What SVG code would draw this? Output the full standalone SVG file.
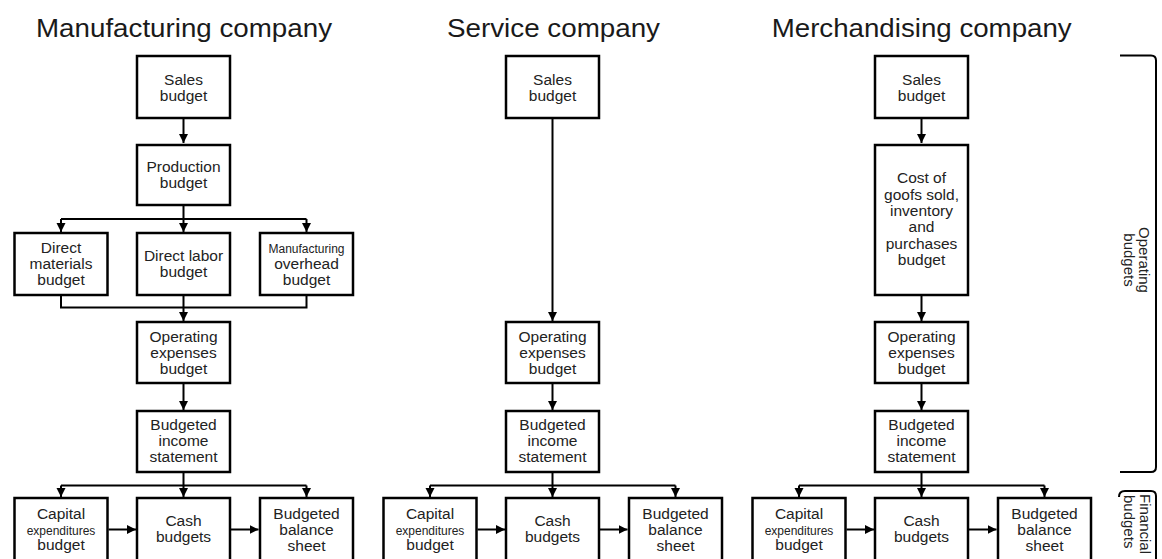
<svg xmlns="http://www.w3.org/2000/svg" width="1162" height="559" viewBox="0 0 1162 559">
  <style>
    .box { fill: #fff; stroke: #000; stroke-width: 2.5; }
    .t { font-family: "Liberation Sans", Arial, sans-serif; font-size: 15.5px; text-anchor: middle; fill: #222; }
    .s { font-family: "Liberation Sans", Arial, sans-serif; font-size: 12px; text-anchor: middle; fill: #222; }
    .title { font-family: "Liberation Sans", Arial, sans-serif; font-size: 26px; text-anchor: middle; fill: #1a1a1a; }
    .side { font-family: "Liberation Sans", Arial, sans-serif; font-size: 15px; fill: #222; }
    .ln { fill: none; stroke: #000; stroke-width: 2; }
    .ar { fill: none; stroke: #000; stroke-width: 2; marker-end: url(#arrow); }
    .br { fill: none; stroke: #000; stroke-width: 2; }
  </style>
  <defs>
    <marker id="arrow" markerUnits="userSpaceOnUse" markerWidth="10" markerHeight="10" refX="9" refY="4.5" orient="auto">
      <path d="M0,0 L9,4.5 L0,9 Z" fill="#000"/>
    </marker>
  </defs>
  <rect width="1162" height="559" fill="#fff"/>

  <!-- column headings -->
  <g id="titles">
    <text class="title" x="184" y="37" textLength="296" lengthAdjust="spacingAndGlyphs">Manufacturing company</text>
    <text class="title" x="553.5" y="37" textLength="213" lengthAdjust="spacingAndGlyphs">Service company</text>
    <text class="title" x="921.7" y="37" textLength="300" lengthAdjust="spacingAndGlyphs">Merchandising company</text>
  </g>

  <!-- connectors -->
  <g id="connectors">
    <!-- manufacturing -->
    <path class="ar" d="M183.5,119 V143"/>
    <path class="ln" d="M183.5,206 V219 M61,219 H306.5"/>
    <path class="ar" d="M61,219 V232"/>
    <path class="ar" d="M183.5,219 V232"/>
    <path class="ar" d="M306.5,219 V232"/>
    <path class="ln" d="M61,296 V307.5 H306.5 V296"/>
    <path class="ar" d="M183.5,296 V321"/>
    <path class="ar" d="M183.5,384 V410"/>
    <path class="ln" d="M183.5,473 V485.5 M61,485.5 H306.5"/>
    <path class="ar" d="M61,485.5 V497"/>
    <path class="ar" d="M183.5,485.5 V497"/>
    <path class="ar" d="M306.5,485.5 V497"/>
    <path class="ar" d="M108.5,529.5 H136"/>
    <path class="ar" d="M231,529.5 H258.5"/>
    <!-- service -->
    <path class="ar" d="M552.5,119 V321"/>
    <path class="ar" d="M552.5,384 V410"/>
    <path class="ln" d="M552.5,473 V485.5 M430,485.5 H675.5"/>
    <path class="ar" d="M430,485.5 V497"/>
    <path class="ar" d="M552.5,485.5 V497"/>
    <path class="ar" d="M675.5,485.5 V497"/>
    <path class="ar" d="M477.5,529.5 H505"/>
    <path class="ar" d="M600,529.5 H627.5"/>
    <!-- merchandising -->
    <path class="ar" d="M921.5,119 V143"/>
    <path class="ar" d="M921.5,296 V321"/>
    <path class="ar" d="M921.5,384 V410"/>
    <path class="ln" d="M921.5,473 V485.5 M799,485.5 H1044.5"/>
    <path class="ar" d="M799,485.5 V497"/>
    <path class="ar" d="M921.5,485.5 V497"/>
    <path class="ar" d="M1044.5,485.5 V497"/>
    <path class="ar" d="M846.5,529.5 H874"/>
    <path class="ar" d="M969,529.5 H996.5"/>
  </g>

  <!-- manufacturing company -->
  <g id="mfg-sales">
    <rect class="box" x="137" y="56" width="93" height="62"/>
    <text class="t" x="183.5" y="85">Sales</text>
    <text class="t" x="183.5" y="101">budget</text>
  </g>
  <g id="mfg-production">
    <rect class="box" x="137" y="145" width="93" height="60"/>
    <text class="t" x="183.5" y="171.5">Production</text>
    <text class="t" x="183.5" y="187.5">budget</text>
  </g>
  <g id="mfg-materials">
    <rect class="box" x="14.5" y="233" width="93" height="62"/>
    <text class="t" x="61" y="252.5">Direct</text>
    <text class="t" x="61" y="268.5">materials</text>
    <text class="t" x="61" y="284.5">budget</text>
  </g>
  <g id="mfg-labor">
    <rect class="box" x="137" y="233" width="93" height="62"/>
    <text class="t" x="183.5" y="261">Direct labor</text>
    <text class="t" x="183.5" y="277">budget</text>
  </g>
  <g id="mfg-overhead">
    <rect class="box" x="260" y="233" width="93" height="62"/>
    <text class="s" x="306.5" y="252.5">Manufacturing</text>
    <text class="t" x="306.5" y="268.5">overhead</text>
    <text class="t" x="306.5" y="284.5">budget</text>
  </g>
  <g id="mfg-opex">
    <rect class="box" x="137" y="322" width="93" height="61"/>
    <text class="t" x="183.5" y="342">Operating</text>
    <text class="t" x="183.5" y="358">expenses</text>
    <text class="t" x="183.5" y="374">budget</text>
  </g>
  <g id="mfg-income">
    <rect class="box" x="137" y="411" width="93" height="61"/>
    <text class="t" x="183.5" y="430">Budgeted</text>
    <text class="t" x="183.5" y="446">income</text>
    <text class="t" x="183.5" y="462">statement</text>
  </g>
  <g id="mfg-capital">
    <rect class="box" x="14.5" y="498" width="93" height="70"/>
    <text class="t" x="61" y="519">Capital</text>
    <text class="s" x="61" y="534.5">expenditures</text>
    <text class="t" x="61" y="550">budget</text>
  </g>
  <g id="mfg-cash">
    <rect class="box" x="137" y="498" width="93" height="70"/>
    <text class="t" x="183.5" y="526">Cash</text>
    <text class="t" x="183.5" y="542">budgets</text>
  </g>
  <g id="mfg-balance">
    <rect class="box" x="260" y="498" width="93" height="70"/>
    <text class="t" x="306.5" y="519">Budgeted</text>
    <text class="t" x="306.5" y="534.5">balance</text>
    <text class="t" x="306.5" y="550.5">sheet</text>
  </g>

  <!-- service company -->
  <g id="svc-sales">
    <rect class="box" x="506" y="56" width="93" height="62"/>
    <text class="t" x="552.5" y="85">Sales</text>
    <text class="t" x="552.5" y="101">budget</text>
  </g>
  <g id="svc-opex">
    <rect class="box" x="506" y="322" width="93" height="61"/>
    <text class="t" x="552.5" y="342">Operating</text>
    <text class="t" x="552.5" y="358">expenses</text>
    <text class="t" x="552.5" y="374">budget</text>
  </g>
  <g id="svc-income">
    <rect class="box" x="506" y="411" width="93" height="61"/>
    <text class="t" x="552.5" y="430">Budgeted</text>
    <text class="t" x="552.5" y="446">income</text>
    <text class="t" x="552.5" y="462">statement</text>
  </g>
  <g id="svc-capital">
    <rect class="box" x="383.5" y="498" width="93" height="70"/>
    <text class="t" x="430" y="519">Capital</text>
    <text class="s" x="430" y="534.5">expenditures</text>
    <text class="t" x="430" y="550">budget</text>
  </g>
  <g id="svc-cash">
    <rect class="box" x="506" y="498" width="93" height="70"/>
    <text class="t" x="552.5" y="526">Cash</text>
    <text class="t" x="552.5" y="542">budgets</text>
  </g>
  <g id="svc-balance">
    <rect class="box" x="629" y="498" width="93" height="70"/>
    <text class="t" x="675.5" y="519">Budgeted</text>
    <text class="t" x="675.5" y="534.5">balance</text>
    <text class="t" x="675.5" y="550.5">sheet</text>
  </g>

  <!-- merchandising company -->
  <g id="mer-sales">
    <rect class="box" x="875" y="56" width="93" height="62"/>
    <text class="t" x="921.5" y="85">Sales</text>
    <text class="t" x="921.5" y="101">budget</text>
  </g>
  <g id="mer-cogs">
    <rect class="box" x="875" y="145" width="93" height="150"/>
    <text class="t" x="921.5" y="183">Cost of</text>
    <text class="t" x="921.5" y="199.5">goofs sold,</text>
    <text class="t" x="921.5" y="216">inventory</text>
    <text class="t" x="921.5" y="232">and</text>
    <text class="t" x="921.5" y="248.5">purchases</text>
    <text class="t" x="921.5" y="265">budget</text>
  </g>
  <g id="mer-opex">
    <rect class="box" x="875" y="322" width="93" height="61"/>
    <text class="t" x="921.5" y="342">Operating</text>
    <text class="t" x="921.5" y="358">expenses</text>
    <text class="t" x="921.5" y="374">budget</text>
  </g>
  <g id="mer-income">
    <rect class="box" x="875" y="411" width="93" height="61"/>
    <text class="t" x="921.5" y="430">Budgeted</text>
    <text class="t" x="921.5" y="446">income</text>
    <text class="t" x="921.5" y="462">statement</text>
  </g>
  <g id="mer-capital">
    <rect class="box" x="752.5" y="498" width="93" height="70"/>
    <text class="t" x="799" y="519">Capital</text>
    <text class="s" x="799" y="534.5">expenditures</text>
    <text class="t" x="799" y="550">budget</text>
  </g>
  <g id="mer-cash">
    <rect class="box" x="875" y="498" width="93" height="70"/>
    <text class="t" x="921.5" y="526">Cash</text>
    <text class="t" x="921.5" y="542">budgets</text>
  </g>
  <g id="mer-balance">
    <rect class="box" x="998" y="498" width="93" height="70"/>
    <text class="t" x="1044.5" y="519">Budgeted</text>
    <text class="t" x="1044.5" y="534.5">balance</text>
    <text class="t" x="1044.5" y="550.5">sheet</text>
  </g>

  <!-- side brackets -->
  <g id="operating-bracket">
    <path class="br" d="M1120,55.5 H1151 Q1156,55.5 1156,60.5 V467 Q1156,472 1151,472 H1120"/>
    <text class="side" text-anchor="middle" transform="translate(1138.5,260) rotate(90)">Operating</text>
    <text class="side" text-anchor="middle" transform="translate(1123.5,260) rotate(90)">budgets</text>
  </g>
  <g id="financial-bracket">
    <path class="br" d="M1119,497 Q1119,491 1125,491 H1151 Q1156,491 1156,496 V565"/>
    <text class="side" transform="translate(1139.5,494) rotate(90)">Financial</text>
    <text class="side" transform="translate(1123.5,495) rotate(90)">budgets</text>
  </g>
</svg>
